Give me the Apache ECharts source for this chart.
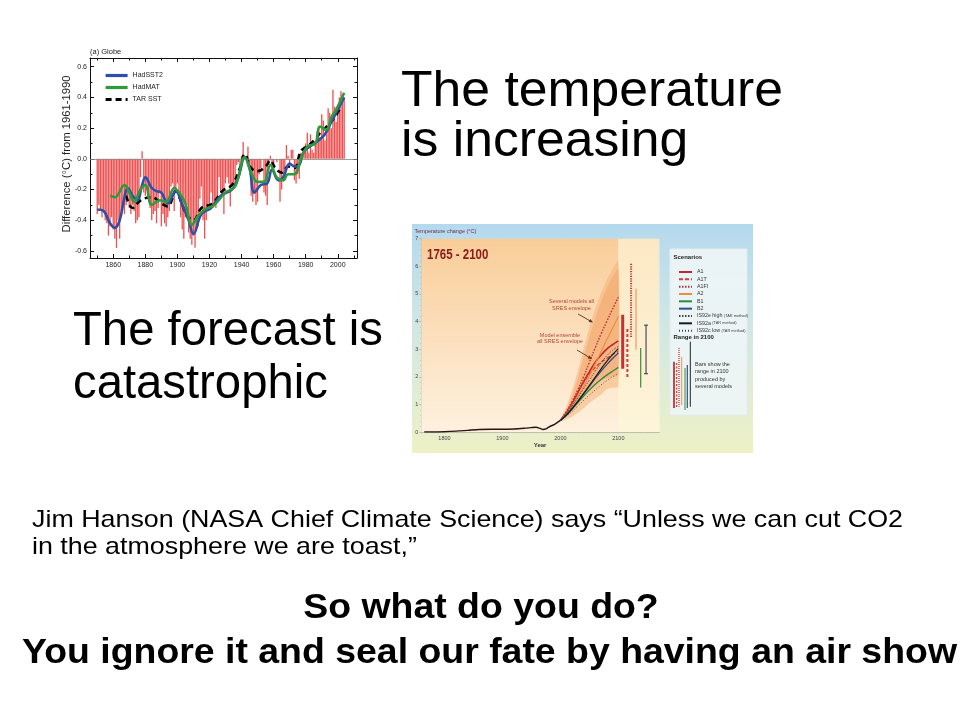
<!DOCTYPE html>
<html><head><meta charset="utf-8">
<script src="https://cdn.jsdelivr.net/npm/echarts@6/dist/echarts.min.js"></script>
<style>html,body{margin:0;padding:0;background:#fff}#c{width:960px;height:720px}</style>
</head><body><div id="c"></div>
<script>
// ---------- Panel (a) Globe : annual anomalies 1850-2004 ----------
const anomalyStartYear = 1850;
const anomalies = [
 -0.36,-0.30,-0.33,-0.38,-0.34,-0.40,-0.42,-0.50,-0.44,-0.38,
 -0.46,-0.52,-0.58,-0.40,-0.52,-0.34,-0.30,-0.36,-0.30,-0.28,
 -0.32,-0.36,-0.30,-0.34,-0.42,-0.40,-0.38,-0.12, 0.05,-0.22,
 -0.24,-0.20,-0.26,-0.32,-0.40,-0.36,-0.34,-0.42,-0.32,-0.22,
 -0.44,-0.36,-0.42,-0.44,-0.38,-0.34,-0.18,-0.16,-0.34,-0.22,
 -0.16,-0.26,-0.38,-0.46,-0.52,-0.38,-0.30,-0.48,-0.52,-0.56,
 -0.50,-0.58,-0.46,-0.44,-0.26,-0.18,-0.40,-0.52,-0.40,-0.32,
 -0.30,-0.22,-0.32,-0.30,-0.32,-0.24,-0.12,-0.22,-0.24,-0.36,
 -0.16,-0.12,-0.16,-0.31,-0.16,-0.20,-0.16,-0.04,-0.02,-0.04,
  0.02, 0.11, 0.02, 0.01, 0.08,-0.04,-0.24,-0.28,-0.22,-0.30,
 -0.28,-0.10,-0.06, 0.00,-0.22,-0.24,-0.30,-0.04, 0.02,-0.04,
 -0.08, 0.00,-0.02, 0.00,-0.28,-0.20,-0.10,-0.08, 0.09, 0.02,
 -0.04, 0.06, 0.06,-0.14,-0.16,-0.10,-0.13, 0.04, 0.02, 0.08,
  0.10, 0.17, 0.04, 0.16, 0.06, 0.04, 0.10, 0.18, 0.21, 0.14,
  0.29, 0.25, 0.12, 0.16, 0.33, 0.30, 0.20, 0.45, 0.34, 0.24,
  0.30, 0.40, 0.44, 0.42, 0.40
];
const hadSST2 = [[1850,-0.33],[1854,-0.34],[1858,-0.42],[1861,-0.45],[1864,-0.40],[1867,-0.25],[1869,-0.19],[1872,-0.24],[1875,-0.27],[1878,-0.17],[1880,-0.12],[1884,-0.19],[1887,-0.21],[1890,-0.22],[1894,-0.29],[1899,-0.21],[1903,-0.30],[1907,-0.40],[1910,-0.49],[1915,-0.36],[1921,-0.32],[1927,-0.24],[1934,-0.20],[1938,-0.12],[1942,0.01],[1945,-0.06],[1948,-0.22],[1952,-0.17],[1956,-0.16],[1959,-0.07],[1963,-0.14],[1966,-0.12],[1970,-0.03],[1973,-0.05],[1976,-0.04],[1979,0.05],[1984,0.09],[1988,0.12],[1992,0.16],[1996,0.24],[2000,0.32],[2004,0.40]];
const hadMAT = [[1858,-0.24],[1861,-0.25],[1867,-0.17],[1870,-0.22],[1873,-0.28],[1877,-0.20],[1880,-0.17],[1884,-0.30],[1889,-0.27],[1893,-0.28],[1898,-0.19],[1901,-0.22],[1905,-0.29],[1909,-0.43],[1913,-0.37],[1917,-0.33],[1923,-0.30],[1930,-0.22],[1936,-0.18],[1942,0.01],[1946,-0.09],[1950,-0.15],[1954,-0.15],[1958,-0.04],[1962,-0.12],[1966,-0.14],[1969,-0.10],[1973,-0.10],[1977,0.00],[1981,0.08],[1986,0.10],[1989,0.21],[1993,0.19],[1996,0.27],[1999,0.32],[2004,0.43]];
const tarSST = [[1868,-0.24],[1872,-0.32],[1876,-0.28],[1879,-0.26],[1884,-0.25],[1890,-0.29],[1894,-0.31],[1899,-0.21],[1903,-0.30],[1906,-0.37],[1910,-0.40],[1915,-0.32],[1922,-0.29],[1928,-0.21],[1934,-0.17],[1939,-0.06],[1942,0.03],[1946,-0.06],[1950,-0.08],[1955,-0.05],[1958,-0.01],[1961,-0.06],[1965,-0.09],[1969,-0.05],[1973,-0.06],[1977,0.05],[1982,0.09],[1986,0.13],[1990,0.18],[1994,0.22],[1998,0.27],[2001,0.32]];
const globeXLabels = [1860,1880,1900,1920,1940,1960,1980,2000];
const globeXMinor = [1850,1870,1890,1910,1930,1950,1970,1990,2010];
const globeYLabels = [-0.6,-0.4,-0.2,0,0.2,0.4,0.6];
const globeYMinor = [-0.5,-0.3,-0.1,0.1,0.3,0.5];

// ---------- Panel 1765-2100 ----------
const histYears = [1765,1780,1800,1820,1840,1860,1880,1900,1920,1940,1950,1958,1965,1970,1975,1980,1990,2000];
const histVals  = [0,0,0.01,0.03,0.06,0.09,0.10,0.10,0.11,0.14,0.16,0.17,0.13,0.09,0.11,0.18,0.28,0.42];
const scenYears = [2000,2010,2020,2030,2040,2050,2060,2070,2080,2090,2100];
const scenA1    = [0.42,0.68,1.02,1.42,1.82,2.18,2.52,2.78,3.00,3.16,3.30];
const scenA1T   = [0.42,0.68,1.04,1.44,1.80,2.10,2.34,2.52,2.66,2.80,2.92];
const scenA1FI  = [0.42,0.74,1.10,1.52,2.00,2.52,3.04,3.54,4.00,4.45,4.88];
const scenA2    = [0.42,0.64,0.94,1.28,1.64,2.04,2.46,2.90,3.34,3.76,4.18];
const scenB1    = [0.42,0.60,0.82,1.06,1.30,1.52,1.72,1.90,2.06,2.20,2.34];
const scenB2    = [0.42,0.62,0.86,1.12,1.40,1.66,1.94,2.20,2.44,2.66,2.86];
const scenIS92e = [0.42,0.66,0.94,1.24,1.56,1.88,2.20,2.50,2.76,2.96,3.10];
const scenIS92a = [0.42,0.60,0.84,1.10,1.38,1.68,1.98,2.28,2.56,2.80,3.02];
const scenIS92c = [0.42,0.56,0.74,0.94,1.14,1.34,1.52,1.70,1.86,2.00,2.12];
const envYears  = [2000,2010,2020,2030,2040,2050,2060,2070,2080,2090,2100];
const outerHi   = [0.45,0.90,1.50,2.20,3.00,3.80,4.45,5.00,5.50,5.90,6.20];
const outerLo   = [0.38,0.45,0.55,0.70,0.85,1.05,1.20,1.35,1.55,1.60,1.65];
const innerHi   = [0.45,0.80,1.30,1.95,2.70,3.45,4.10,4.70,5.20,5.60,5.90];
const innerLo   = [0.42,0.55,0.75,1.00,1.25,1.50,1.70,1.85,1.95,2.00,2.05];
const rangeA1   = [2107.5, 2.29, 4.25];
const rangeA1T  = [2115.6, 1.99, 3.77];
const rangeA1FI = [2122.0, 3.44, 6.10];
const rangeA2   = [2130.5, 2.98, 5.19];
const rangeB1   = [2138.6, 1.61, 3.04];
const rangeB2   = [2147.8, 2.11, 3.87];
const panel2XLabels = [1800,1900,2000,2100];

// ---------- text fitting helper ----------
const FONT = '"Liberation Sans", Arial, sans-serif';
const mctx = document.createElement('canvas').getContext('2d');
function fitScale(text, font, target){ mctx.font = font; return target / mctx.measureText(text).width; }

const chart = echarts.init(document.getElementById('c'), null, {renderer:'canvas'});

const pair = (xs, ys) => xs.map((x,i)=>[x, ys[i]]);
const anomData = anomalies.map((v,i)=>[anomalyStartYear+i, v]);

const G0 = {xMin:1845.5, xMax:2012, yMin:-0.646, yMax:0.657};
const axisBlack = {show:true, onZero:false, lineStyle:{color:'#111', width:1}};
function gx(pos, ticks, len, labels){
  return {type:'value', gridIndex:0, position:pos, min:G0.xMin, max:G0.xMax,
    axisLine: labels===undefined ? {show:false, onZero:false} : axisBlack,
    axisTick:{show:true, inside:true, length:len, customValues:ticks, lineStyle:{color:'#111'}},
    axisLabel: labels ? {show:true, customValues:labels, fontSize:7, color:'#222', margin:4, fontFamily:FONT,
                         formatter:v=>String(Math.round(v))} : {show:false},
    splitLine:{show:false}};
}
function gy(pos, ticks, len, labels){
  return {type:'value', gridIndex:0, position:pos, min:G0.yMin, max:G0.yMax,
    axisLine: labels===undefined ? {show:false, onZero:false} : axisBlack,
    axisTick:{show:true, inside:true, length:len, customValues:ticks, lineStyle:{color:'#111'}},
    axisLabel: labels ? {show:true, customValues:labels, fontSize:7, color:'#222', margin:3, fontFamily:FONT,
                         formatter:v=>Number(v).toFixed(1)} : {show:false},
    splitLine:{show:false}};
}

const scenDefs = [
  {name:'A1', data:scenA1, color:'#c0272d', width:1.6, type:'solid'},
  {name:'A1T', data:scenA1T, color:'#d43a3a', width:1.4, type:[4,2]},
  {name:'A1FI', data:scenA1FI, color:'#b83030', width:1.4, type:[1.5,1.5]},
  {name:'A2', data:scenA2, color:'#f08a3c', width:1.1, type:'solid'},
  {name:'B1', data:scenB1, color:'#2f8a3e', width:1.3, type:'solid'},
  {name:'B2', data:scenB2, color:'#2b4f86', width:1.3, type:'solid'},
  {name:'IS92e high', data:scenIS92e, color:'#444', width:0.9, type:[1.5,1.5]},
  {name:'IS92a', data:scenIS92a, color:'#1a1a1a', width:1.2, type:'solid'},
  {name:'IS92c low', data:scenIS92c, color:'#444', width:0.9, type:[1,2]}
];
const rangeDefs = [
  {r:rangeA1, color:'#cc2f33', width:3, type:'solid'},
  {r:rangeA1T, color:'#d23c3c', width:2, type:[3,2]},
  {r:rangeA1FI, color:'#c43434', width:2, type:[1.2,1.2]},
  {r:rangeA2, color:'#f0874a', width:1, type:'solid'},
  {r:rangeB1, color:'#3b8a3b', width:1.2, type:'solid'},
  {r:rangeB2, color:'#25304a', width:1, type:'solid', cap:true}
];

function envelope(lo, hi, fill){
  return {type:'custom', xAxisIndex:4, yAxisIndex:4, silent:true, z:2,
    data: envYears.map((y,i)=>[y, lo[i], hi[i]]),
    encode:{x:0, y:[1,2]},
    renderItem:(params, api)=>{
      if (params.dataIndex !== 0) return;
      const pts = [];
      envYears.forEach((y,i)=>pts.push(api.coord([y, hi[i]])));
      for (let i=envYears.length-1;i>=0;i--) pts.push(api.coord([envYears[i], lo[i]]));
      return {type:'polygon', shape:{points:pts, smooth:0.25}, style:{fill:fill}};
    }};
}

const series = [
  {name:'anom', type:'bar', xAxisIndex:0, yAxisIndex:0, data:anomData, barWidth:1.3,
   itemStyle:{color:'#ee5050'}, silent:true, z:2,
   markLine:{silent:true, symbol:'none', label:{show:false}, lineStyle:{color:'#888', width:0.8, type:'solid'},
             data:[{yAxis:0}]}},
  {name:'TAR SST', type:'line', xAxisIndex:0, yAxisIndex:0, data:tarSST, smooth:0.4, symbol:'none',
   lineStyle:{color:'#000', width:2.6, type:[6,4]}, itemStyle:{color:'#000'}, z:3},
  {name:'HadSST2', type:'line', xAxisIndex:0, yAxisIndex:0, data:hadSST2, smooth:0.4, symbol:'none',
   lineStyle:{color:'#2e4fa8', width:2.6}, itemStyle:{color:'#2e4fa8'}, z:4},
  {name:'HadMAT', type:'line', xAxisIndex:0, yAxisIndex:0, data:hadMAT, smooth:0.4, symbol:'none',
   lineStyle:{color:'#2f9a3c', width:2.6}, itemStyle:{color:'#2f9a3c'}, z:5},

  {name:'zones', type:'line', xAxisIndex:4, yAxisIndex:4, data:[], z:1, silent:true,
   markArea:{silent:true, data:[
     [{xAxis:1760, yAxis:0, itemStyle:{color:new echarts.graphic.LinearGradient(0,0,0,1,[
        {offset:0,color:'#f9cd98'},{offset:0.55,color:'#fce1c0'},{offset:1,color:'#fdf1df'}])}},
      {xAxis:2100, yAxis:7}],
     [{xAxis:2100, yAxis:0, itemStyle:{color:new echarts.graphic.LinearGradient(0,0,0,1,[
        {offset:0,color:'#fde8c4'},{offset:1,color:'#fdf5da'}])}},
      {xAxis:2170, yAxis:7}]
   ]}},
  envelope(outerLo, outerHi, 'rgba(246,178,120,0.55)'),
  envelope(innerLo, innerHi, 'rgba(242,160,100,0.45)'),
  {name:'Observed', type:'line', xAxisIndex:4, yAxisIndex:4, data:pair(histYears, histVals), smooth:0.3,
   symbol:'none', lineStyle:{color:'#2a1414', width:1.4}, z:6, silent:true}
];
scenDefs.forEach(d=>series.push({name:d.name, type:'line', xAxisIndex:4, yAxisIndex:4,
  data:pair(scenYears, d.data), smooth:0.4, symbol:'none', silent:true, z:7,
  lineStyle:{color:d.color, width:d.width, type:d.type}, itemStyle:{color:d.color}}));
rangeDefs.forEach((d,i)=>series.push({name:'range'+i, type:'line', xAxisIndex:4, yAxisIndex:4,
  data:[[d.r[0], d.r[1]],[d.r[0], d.r[2]]], silent:true, z:7,
  symbol: d.cap ? 'rect' : 'none', symbolSize:[4,1], showSymbol:!!d.cap, itemStyle:{color:d.color},
  lineStyle:{color:d.color, width:d.width, type:d.type}}));

// ---------- slide text (fitted widths) ----------
const f1 = 'normal 50px ' + FONT;
const s1 = fitScale('The temperature', f1, 382);
const f2 = 'normal 48px ' + FONT;
const s2 = fitScale('The forecast is', f2, 310);
const f3 = 'normal 24px ' + FONT;
const jim1 = 'Jim Hanson (NASA Chief Climate Science) says \u201cUnless we can cut CO2';
const jim2 = 'in the atmosphere we are toast,\u201d';
const s3 = fitScale(jim1, f3, 871);
const f4 = 'bold 35px ' + FONT;
const bot2 = 'You ignore it and seal our fate by having an air show';
const s4 = fitScale(bot2, f4, 935);

function T(text, x, y, size, opts){
  opts = opts || {};
  return {type:'text', x:x, y:y, z:opts.z||20, scaleX:opts.sx||1, rotation:opts.rot||0,
    style:{text:text, x:0, y:0, fill:opts.color||'#000', fontSize:size, fontFamily:FONT,
      fontWeight:opts.bold?'bold':'normal', align:opts.align||'left', verticalAlign:'middle',
      lineHeight:opts.lh}};
}
function arrow(x1,y1,x2,y2,color){
  const a = Math.atan2(y2-y1, x2-x1), L=4, W=1.8;
  const p1=[x2 - L*Math.cos(a) + W*Math.sin(a), y2 - L*Math.sin(a) - W*Math.cos(a)];
  const p2=[x2 - L*Math.cos(a) - W*Math.sin(a), y2 - L*Math.sin(a) + W*Math.cos(a)];
  return [
    {type:'line', z:20, shape:{x1:x1,y1:y1,x2:x2-L*0.7*Math.cos(a),y2:y2-L*0.7*Math.sin(a)}, style:{stroke:color, lineWidth:0.9}},
    {type:'polygon', z:20, shape:{points:[[x2,y2],p1,p2]}, style:{fill:color}}
  ];
}
const miniBars = [
  [674.0,361.7,408.0,'#c83232',1.8,null],
  [676.7,363.0,408.0,'#d84040',1.3,[2,1.5]],
  [679.0,348.0,406.7,'#c83232',1.3,[1,1]],
  [681.7,357.0,405.0,'#f0954a',1.0,null],
  [685.0,368.0,410.0,'#3a8a3a',1.0,null],
  [687.3,365.0,408.0,'#2e4f86',1.2,null],
  [690.3,341.7,406.7,'#222222',1.0,null]
];

const graphic = [
  {type:'rect', z:0, shape:{x:412, y:224, width:341, height:229},
   style:{fill:new echarts.graphic.LinearGradient(0,0,0,1,[
     {offset:0,color:'#b4d9ee'},{offset:0.45,color:'#d2e7e4'},{offset:1,color:'#eef1c6'}])}},
  {type:'rect', z:0, shape:{x:670, y:249, width:77, height:166},
   style:{fill:'rgba(238,245,246,0.92)', stroke:'#e2ecee', lineWidth:1}},
  T('The temperature', 401, 92.5, 50, {sx:s1}),
  T('is increasing', 401, 142.5, 50, {sx:s1}),
  T('The forecast is', 73, 331.5, 48, {sx:s2}),
  T('catastrophic', 73, 385, 48, {sx:s2}),
  T(jim1, 32, 520, 24, {sx:s3}),
  T(jim2, 32, 547.5, 24, {sx:s3}),
  T('So what do you do?', 481, 608.5, 35, {sx:s4, bold:true, align:'center'}),
  T(bot2, 489.5, 653.5, 35, {sx:s4, bold:true, align:'center'}),
  T('(a) Globe', 90, 52, 7.5, {color:'#222'}),
  T('Difference (\u00b0C) from 1961-1990', 67, 154, 10, {rot:Math.PI/2, align:'center', color:'#222',
     sx:fitScale('Difference (\u00b0C) from 1961-1990','normal 10px '+FONT,157)}),
  T('Temperature change (\u00b0C)', 414.5, 231.5, 5.5, {color:'#6b2f4a'}),
  T('1765 - 2100', 427, 255.5, 14, {bold:true, color:'#8b1a1a', sx:0.82}),
  T('Several models all\nSRES envelope', 571.5, 305, 5.5, {align:'center', color:'#b2463a', lh:6.2}),
  T('Model ensemble\nall SRES envelope', 560, 338.5, 5.5, {align:'center', color:'#b2463a', lh:6.2}),
  ...arrow(578,314,593,322.5,'#5a3020'),
  ...arrow(577,350,592,359,'#5a3020'),
  T('Scenarios', 673.5, 257.5, 6, {bold:true, color:'#222'}),
  T('Range in 2100', 673.5, 337, 6, {bold:true, color:'#222'}),
  T('Bars show the\nrange in 2100\nproduced by\nseveral models', 695, 375.5, 5.5, {color:'#333', lh:7.2})
];
miniBars.forEach(b=>graphic.push({type:'line', z:20, shape:{x1:b[0],y1:b[1],x2:b[0],y2:b[2]},
  style:{stroke:b[3], lineWidth:b[4], lineDash:b[5]}}));

const option = {
  backgroundColor:'#ffffff',
  animation:false,
  textStyle:{fontFamily:FONT},
  grid:[
    {left:90, top:58, width:267, height:200, show:false},
    {left:421.3, top:238.7, width:237.6, height:193.3, show:false}
  ],
  xAxis:[
    gx('bottom', globeXLabels, 4, globeXLabels),
    gx('bottom', globeXMinor, 2.5),
    gx('top', globeXLabels, 4, null),
    gx('top', globeXMinor, 2.5),
    {type:'value', gridIndex:1, min:1760, max:2170, interval:10,
     axisLine:{show:true, onZero:false, lineStyle:{color:'#b9b2a6', width:0.8}},
     axisTick:{show:true, length:1.5, lineStyle:{color:'#c8c0b0', width:0.5}},
     axisLabel:{fontSize:5.5, color:'#444', margin:3, fontFamily:FONT,
       formatter:v=>panel2XLabels.indexOf(v)>=0 ? String(v) : ''},
     splitLine:{show:true, lineStyle:{color:'rgba(255,255,255,0.6)', width:0.5}},
     name:'Year', nameLocation:'middle', nameGap:10,
     nameTextStyle:{fontSize:6, fontWeight:'bold', color:'#333', fontFamily:FONT}}
  ],
  yAxis:[
    gy('left', globeYLabels, 4, globeYLabels),
    gy('left', globeYMinor, 2.5),
    gy('right', globeYLabels, 4, null),
    gy('right', globeYMinor, 2.5),
    {type:'value', gridIndex:1, min:0, max:7, interval:1,
     axisLine:{show:true, lineStyle:{color:'#a9a49a', width:0.8}},
     axisTick:{show:true, length:2, lineStyle:{color:'#999', width:0.6}},
     minorTick:{show:true, splitNumber:5, length:1.2, lineStyle:{color:'#aaa', width:0.5}},
     axisLabel:{fontSize:5.5, color:'#444', margin:3, fontFamily:FONT},
     splitLine:{show:false}}
  ],
  legend:[
    {data:['HadSST2','HadMAT','TAR SST'], orient:'vertical', left:99, top:67,
     itemWidth:22, itemHeight:8, itemGap:5, selectedMode:false, itemStyle:{opacity:0},
     lineStyle:{width:3.2},
     textStyle:{fontSize:7, color:'#222', fontFamily:FONT}},
    {data:scenDefs.map(d=>d.name), orient:'vertical', left:673, top:264,
     itemWidth:13, itemHeight:6, itemGap:1.33, selectedMode:false, itemStyle:{opacity:0},
     textStyle:{fontSize:5.3, color:'#333', fontFamily:FONT, lineHeight:6,
       rich:{s:{fontSize:3.9, color:'#444', fontFamily:FONT, lineHeight:6}}},
     formatter:n=>n.indexOf('IS92')===0 ? n + ' {s|(TAR method)}' : n}
  ],
  graphic:graphic,
  series:series
};
chart.setOption(option);
</script>
</body></html>
